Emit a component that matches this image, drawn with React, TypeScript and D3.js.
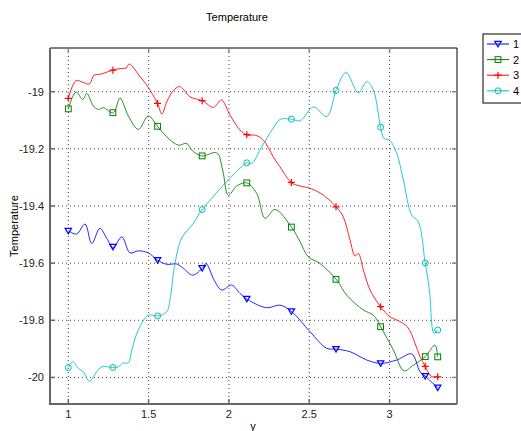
import React from 'react';
import * as d3 from 'd3';

const xTicks = [1, 1.5, 2, 2.5, 3];
const yTicks = [-20, -19.8, -19.6, -19.4, -19.2, -19];
const yTickLabels = ['-20', '-19.8', '-19.6', '-19.4', '-19.2', '-19'];
const markerX = [1, 1.2778, 1.5556, 1.8333, 2.1111, 2.3889, 2.6667, 2.9444, 3.2222, 3.3];
const seriesNames = ['1', '2', '3', '4'];

const series1: [number, number][] = [
  [1.0, -19.487], [1.052, -19.498], [1.104, -19.463], [1.146, -19.531], [1.197, -19.478],
  [1.239, -19.513], [1.28, -19.545], [1.333, -19.508], [1.384, -19.564], [1.436, -19.557],
  [1.498, -19.564], [1.554, -19.589], [1.613, -19.604], [1.675, -19.603], [1.716, -19.618],
  [1.775, -19.642], [1.837, -19.616], [1.857, -19.601], [1.913, -19.665], [1.955, -19.694],
  [2.017, -19.677], [2.069, -19.706], [2.115, -19.727], [2.235, -19.756], [2.318, -19.747],
  [2.391, -19.77], [2.505, -19.84], [2.609, -19.898], [2.667, -19.901], [2.754, -19.91],
  [2.858, -19.939], [2.945, -19.951], [3.045, -19.939], [3.138, -19.918], [3.19, -19.98],
  [3.221, -19.995], [3.3, -20.036],
];

const series2: [number, number][] = [
  [1.0, -19.06], [1.048, -19.001], [1.09, -19.027], [1.115, -19.006], [1.156, -19.05],
  [1.187, -19.062], [1.218, -19.056], [1.28, -19.074], [1.322, -19.023], [1.374, -19.085],
  [1.436, -19.132], [1.498, -19.085], [1.554, -19.12], [1.613, -19.158], [1.685, -19.187],
  [1.737, -19.181], [1.768, -19.204], [1.831, -19.225], [1.924, -19.214], [1.961, -19.274],
  [1.996, -19.362], [2.049, -19.33], [2.111, -19.319], [2.173, -19.356], [2.225, -19.443],
  [2.287, -19.412], [2.391, -19.475], [2.443, -19.525], [2.494, -19.578], [2.567, -19.601],
  [2.671, -19.659], [2.733, -19.712], [2.837, -19.764], [2.899, -19.782], [2.945, -19.823],
  [3.024, -19.904], [3.09, -19.977], [3.148, -19.957], [3.221, -19.928], [3.283, -19.887],
  [3.3, -19.928],
];

const series3: [number, number][] = [
  [1.0, -19.023], [1.048, -18.961], [1.09, -18.967], [1.131, -18.973], [1.16, -18.942],
  [1.197, -18.939], [1.276, -18.925], [1.322, -18.919], [1.359, -18.917], [1.38, -18.903],
  [1.446, -18.947], [1.492, -18.98], [1.554, -19.039], [1.583, -19.078], [1.613, -19.035],
  [1.654, -18.996], [1.691, -18.982], [1.72, -18.994], [1.758, -19.018], [1.837, -19.032],
  [1.903, -19.055], [1.953, -19.029], [2.007, -19.082], [2.069, -19.134], [2.115, -19.152],
  [2.163, -19.152], [2.214, -19.169], [2.276, -19.228], [2.318, -19.263], [2.391, -19.319],
  [2.443, -19.33], [2.505, -19.338], [2.588, -19.362], [2.671, -19.405], [2.712, -19.438],
  [2.754, -19.519], [2.785, -19.575], [2.806, -19.566], [2.837, -19.624], [2.879, -19.694],
  [2.945, -19.753], [3.003, -19.788], [3.045, -19.799], [3.111, -19.823], [3.159, -19.881],
  [3.19, -19.928], [3.221, -19.96], [3.252, -19.992], [3.269, -19.998], [3.3, -19.998],
];

const series4: [number, number][] = [
  [1.0, -19.966], [1.027, -19.945], [1.062, -19.968], [1.093, -19.98], [1.131, -20.013],
  [1.177, -19.98], [1.208, -19.963], [1.276, -19.965], [1.311, -19.963], [1.342, -19.949],
  [1.374, -19.949], [1.395, -19.904], [1.436, -19.834], [1.498, -19.782], [1.554, -19.785],
  [1.613, -19.77], [1.633, -19.729], [1.664, -19.601], [1.706, -19.512], [1.758, -19.475],
  [1.778, -19.461], [1.831, -19.414], [1.893, -19.373], [1.965, -19.327], [2.069, -19.268],
  [2.111, -19.249], [2.142, -19.251], [2.204, -19.193], [2.276, -19.127], [2.318, -19.097],
  [2.391, -19.096], [2.443, -19.102], [2.526, -19.053], [2.609, -19.087], [2.669, -18.992],
  [2.729, -18.933], [2.806, -19.004], [2.858, -18.965], [2.899, -18.994], [2.945, -19.126],
  [2.966, -19.164], [2.999, -19.169], [3.045, -19.216], [3.086, -19.309], [3.138, -19.432],
  [3.179, -19.455], [3.221, -19.595], [3.248, -19.694], [3.277, -19.846], [3.3, -19.834],
];

const allSeries = [series1, series2, series3, series4];
const colors = ['#0000ff', '#008000', '#ff0000', '#00bfbf'];
const markerTypes = ['triangle', 'square', 'plus', 'circle'];

const W = 521;
const H = 431;
const left = 50, right = 457, top = 48, bottom = 404;

function interpY(data: [number, number][], x: number): number {
  const bis = d3.bisector((d: [number, number]) => d[0]).left;
  const i = bis(data, x);
  if (i <= 0) return data[0][1];
  if (i >= data.length) return data[data.length - 1][1];
  const a = data[i - 1], b = data[i];
  const t = (x - a[0]) / (b[0] - a[0]);
  return a[1] + t * (b[1] - a[1]);
}

function Marker({ type, x, y, color }: { type: string; x: number; y: number; color: string }) {
  if (type === 'triangle') {
    const s = 3.2;
    return <path d={`M${x - s},${y - s * 0.8}L${x + s},${y - s * 0.8}L${x},${y + s * 0.9}Z`} fill="none" stroke={color} strokeWidth={1.2} />;
  }
  if (type === 'square') {
    const s = 2.9;
    return <rect x={x - s} y={y - s} width={2 * s} height={2 * s} fill="none" stroke={color} strokeWidth={1} />;
  }
  if (type === 'plus') {
    const s = 3.5;
    return <path d={`M${x - s},${y}L${x + s},${y}M${x},${y - s}L${x},${y + s}`} stroke={color} strokeWidth={1.2} fill="none" />;
  }
  return <circle cx={x} cy={y} r={3} fill="none" stroke={color} strokeWidth={1} />;
}

export default function App() {
  const x = d3.scaleLinear().domain([0.886, 3.42]).range([left, right]);
  const y = d3.scaleLinear().domain([-20.093, -18.847]).range([bottom, top]);
  const line = d3
    .line<[number, number]>()
    .x((d) => x(d[0]))
    .y((d) => y(d[1]))
    .curve(d3.curveCatmullRom.alpha(0.5));

  const font = 'Liberation Sans, Arial, sans-serif';
  const legendX = 483, legendY = 34, legendStep = 15.6;

  return (
    <div style={{ position: 'absolute', left: 0, top: 0, width: W, height: H, background: '#fff' }}>
      <svg width={W} height={H} style={{ display: 'block' }} fontFamily={font}>
        <rect x={0} y={0} width={W} height={H} fill="#fff" />
        {/* grid */}
        {xTicks.map((t) => (
          <line key={'gx' + t} x1={x(t)} x2={x(t)} y1={top} y2={bottom} stroke="#444" strokeWidth={1} strokeDasharray="1,3" />
        ))}
        {yTicks.map((t) => (
          <line key={'gy' + t} x1={left} x2={right} y1={y(t)} y2={y(t)} stroke="#444" strokeWidth={1} strokeDasharray="1,3" />
        ))}
        {/* series lines */}
        {allSeries.map((s, i) => (
          <path key={'l' + i} d={line(s) || ''} fill="none" stroke={colors[i]} strokeWidth={1} strokeOpacity={0.85} />
        ))}
        {/* markers */}
        {allSeries.map((s, i) =>
          markerX.map((mx, j) => (
            <Marker key={'m' + i + '-' + j} type={markerTypes[i]} x={x(mx)} y={y(interpY(s, mx))} color={colors[i]} />
          ))
        )}
        {/* frame */}
        <line x1={left} x2={right} y1={top} y2={top} stroke="#000" strokeWidth={1} />
        <line x1={right} x2={right} y1={top} y2={bottom} stroke="#000" strokeWidth={1} />
        <line x1={left} x2={left} y1={top} y2={bottom + 1} stroke="#666" strokeWidth={2} />
        <line x1={left - 1} x2={right} y1={bottom} y2={bottom} stroke="#666" strokeWidth={2} />
        {/* ticks */}
        {xTicks.map((t) => (
          <g key={'tx' + t}>
            <line x1={x(t)} x2={x(t)} y1={bottom} y2={bottom - 5} stroke="#666" strokeWidth={1.5} />
            <line x1={x(t)} x2={x(t)} y1={top} y2={top + 5} stroke="#888" strokeWidth={1.5} />
            <text x={x(t)} y={bottom + 14} textAnchor="middle" fontSize={11} fill="#222">
              {String(t)}
            </text>
          </g>
        ))}
        {yTicks.map((t, i) => (
          <g key={'ty' + t}>
            <line x1={left} x2={left + 5} y1={y(t)} y2={y(t)} stroke="#666" strokeWidth={1.5} />
            <line x1={right} x2={right - 5} y1={y(t)} y2={y(t)} stroke="#888" strokeWidth={1.5} />
            <text x={left - 6} y={y(t) + 4} textAnchor="end" fontSize={11} fill="#222">
              {yTickLabels[i]}
            </text>
          </g>
        ))}
        {/* labels */}
        <text x={237} y={21} textAnchor="middle" fontSize={11} fill="#000">Temperature</text>
        <text x={253} y={430} textAnchor="middle" fontSize={11} fill="#000">y</text>
        <text transform={`translate(18,${(top + bottom) / 2}) rotate(-90)`} textAnchor="middle" fontSize={11} fill="#000">
          Temperature
        </text>
        {/* legend */}
        <rect x={legendX} y={legendY} width={W - legendX + 5} height={69} fill="#fff" stroke="#000" strokeWidth={1} />
        {seriesNames.map((n, i) => {
          const ly = legendY + 10 + i * legendStep;
          return (
            <g key={'lg' + n}>
              <line x1={legendX + 4} x2={legendX + 26} y1={ly} y2={ly} stroke={colors[i]} strokeWidth={1} />
              <Marker type={markerTypes[i]} x={legendX + 15} y={ly} color={colors[i]} />
              <text x={legendX + 30} y={ly + 4} fontSize={11} fill="#000">{n}</text>
            </g>
          );
        })}
      </svg>
    </div>
  );
}
